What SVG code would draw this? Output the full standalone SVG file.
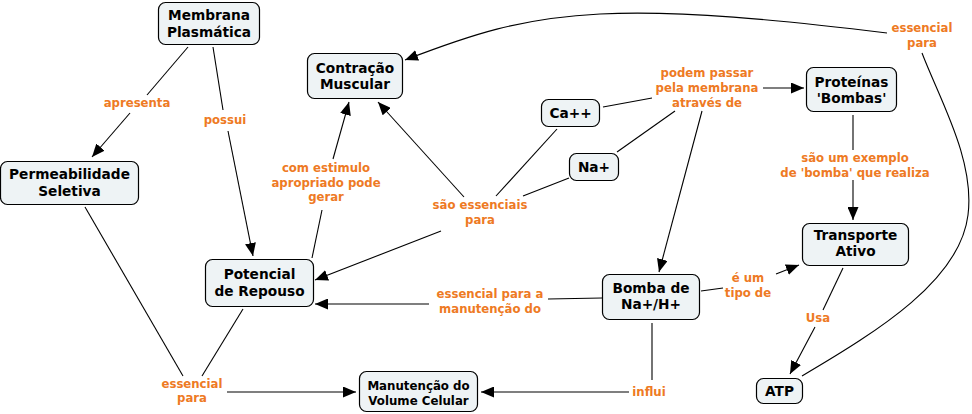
<svg xmlns="http://www.w3.org/2000/svg" width="972" height="414" viewBox="0 0 972 414">
<defs>
<marker id="arr" markerUnits="userSpaceOnUse" markerWidth="13" markerHeight="11" refX="13" refY="5.5" orient="auto">
<path d="M0,0 L13,5.5 L0,11 z" fill="#000"/>
</marker>
<style>
.n rect{fill:#EEF3F5;stroke:#000;stroke-width:1.2}
.n text{font-family:"DejaVu Sans",Verdana,sans-serif;font-weight:bold;font-size:13.7px;fill:#000;text-anchor:middle}
.n text.s{font-size:11.8px}
.l text{font-family:"DejaVu Sans",Verdana,sans-serif;font-weight:bold;font-size:11.7px;fill:#EE7A24;text-anchor:middle}
.c path{fill:none;stroke:#000;stroke-width:1.1}
.c .a{marker-end:url(#arr)}
</style>
</defs>
<rect width="972" height="414" fill="#fff"/>
<g class="c" id="connectors">
<path d="M188,47 L147,95"/>
<path class="a" d="M130,113 L92,157"/>
<path d="M213,47 L223,110"/>
<path class="a" d="M228,131 L253,256"/>
<path d="M312,258 L322,210"/>
<path class="a" d="M333,159 L349,102"/>
<path class="a" d="M464,197 L378,102"/>
<path d="M557,129 L496,196"/>
<path d="M569,178 L523,196"/>
<path class="a" d="M441,231 L315,280"/>
<path d="M603,107 L652,98"/>
<path d="M617,152 L675,111"/>
<path class="a" d="M763,88 L804,88"/>
<path class="a" d="M702,111 L659,272"/>
<path d="M853,115 L853,150"/>
<path class="a" d="M853,180 L853,220"/>
<path d="M701,291 L723,288"/>
<path class="a" d="M776,274 L799,265"/>
<path d="M602,298 L548,299"/>
<path class="a" d="M429,304 L315,304"/>
<path d="M652,323 L652,380"/>
<path class="a" d="M629,392 L481,392"/>
<path d="M843,268 L823,310"/>
<path class="a" d="M815,327 L790,374"/>
<path d="M802,376 C880,330 960,280 968,215 C975,160 940,100 922,53"/>
<path class="a" d="M887,33 C780,20 680,10 600,14 C520,18 470,35 405,60"/>
<path d="M85,207 L183,376"/>
<path d="M243,309 L202,376"/>
<path class="a" d="M227,392 L356,392"/>
</g>
<g class="n" id="membrana"><rect x="158.5" y="2.5" width="101" height="42" rx="7"/><text x="209" y="20">Membrana</text><text x="209" y="36.5">Plasmática</text></g>
<g class="n" id="contracao"><rect x="307.5" y="53.5" width="95" height="45" rx="7"/><text x="355" y="72.5">Contração</text><text x="355" y="89">Muscular</text></g>
<g class="n" id="permeabilidade"><rect x="0.5" y="161.5" width="138" height="43" rx="7"/><text x="69.5" y="179">Permeabilidade</text><text x="69.5" y="196">Seletiva</text></g>
<g class="n" id="potencial"><rect x="205.5" y="259.5" width="108" height="47" rx="7"/><text x="259.5" y="279">Potencial</text><text x="259.5" y="296">de Repouso</text></g>
<g class="n" id="manutencao"><rect x="359.5" y="371.5" width="118" height="40" rx="7"/><text class="s" x="418.5" y="390">Manutenção do</text><text class="s" x="418.5" y="405">Volume Celular</text></g>
<g class="n" id="ca"><rect x="541.5" y="99.5" width="58" height="27" rx="7"/><text x="570.5" y="118">Ca++</text></g>
<g class="n" id="na"><rect x="569.5" y="153.5" width="49" height="27" rx="7"/><text x="594" y="172">Na+</text></g>
<g class="n" id="proteinas"><rect x="806.5" y="67.5" width="90" height="44" rx="7"/><text x="851.5" y="87">Proteínas</text><text x="851.5" y="102.5">'Bombas'</text></g>
<g class="n" id="transporte"><rect x="802.5" y="223.5" width="106" height="42" rx="7"/><text x="855.5" y="239.5">Transporte</text><text x="855.5" y="256">Ativo</text></g>
<g class="n" id="bomba"><rect x="602.5" y="274.5" width="97" height="45" rx="7"/><text x="651" y="293">Bomba de</text><text x="651" y="309">Na+/H+</text></g>
<g class="n" id="atp"><rect x="756.5" y="378.5" width="46" height="25" rx="7"/><text x="779.5" y="396">ATP</text></g>
<g class="l" id="l-apresenta"><text x="137" y="107">apresenta</text></g>
<g class="l" id="l-possui"><text x="225" y="124">possui</text></g>
<g class="l" id="l-estimulo"><text x="326" y="172">com estimulo</text><text x="326" y="187">apropriado pode</text><text x="326" y="201">gerar</text></g>
<g class="l" id="l-essenciais"><text x="480" y="209">são essenciais</text><text x="480" y="224">para</text></g>
<g class="l" id="l-podem"><text x="707" y="77">podem passar</text><text x="707" y="92">pela membrana</text><text x="707" y="107">através de</text></g>
<g class="l" id="l-essencial-top"><text x="922" y="32">essencial</text><text x="922" y="47">para</text></g>
<g class="l" id="l-exemplo"><text x="855" y="162">são um exemplo</text><text x="855" y="177">de 'bomba' que realiza</text></g>
<g class="l" id="l-tipo"><text x="748" y="282">é um</text><text x="748" y="297">tipo de</text></g>
<g class="l" id="l-manutencao"><text x="490" y="298">essencial para a</text><text x="490" y="313">manutenção do</text></g>
<g class="l" id="l-influi"><text x="649" y="396">influi</text></g>
<g class="l" id="l-usa"><text x="818" y="322">Usa</text></g>
<g class="l" id="l-essencial-bot"><text x="192" y="388">essencial</text><text x="192" y="402">para</text></g>
</svg>
